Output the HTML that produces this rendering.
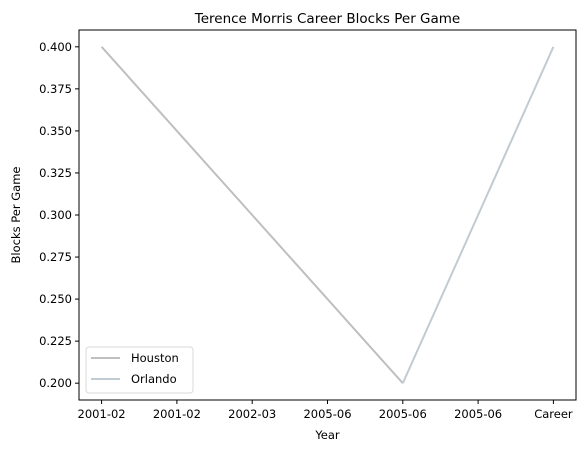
<!DOCTYPE html>
<html><head><meta charset="utf-8"><style>
body{margin:0;background:#fff;font-family:"Liberation Sans","DejaVu Sans",sans-serif}
</style></head><body>
<svg id="chart" width="588" height="453" xmlns="http://www.w3.org/2000/svg" font-family="DejaVu Sans, Liberation Sans, sans-serif"></svg>
<script>
const categories=["2001-02","2001-02","2002-03","2005-06","2005-06","2005-06","Career"];
const houston=[0.4,0.35,0.3,0.25,0.2,null,null];
const orlando=[null,null,null,null,0.2,0.3,0.4];
const yTicks=[0.2,0.225,0.25,0.275,0.3,0.325,0.35,0.375,0.4];
const L=79,R=576,T=30,B=400,xmin=-0.3,xmax=6.3,ymin=0.19,ymax=0.41;
const X=i=>L+(i-xmin)/(xmax-xmin)*(R-L);
const Y=v=>B-(v-ymin)/(ymax-ymin)*(B-T);
const svg=document.getElementById('chart');
const NS="http://www.w3.org/2000/svg";
function mk(t,a,txt){const e=document.createElementNS(NS,t);for(const k in a)e.setAttribute(k,a[k]);if(txt!=null)e.textContent=txt;svg.appendChild(e);return e;}
let e=mk('text',{x:(L+R)/2,y:23,'text-anchor':'middle','font-size':13.5},'Terence Morris Career Blocks Per Game');


function line(vals,color,name){let pts=[];vals.forEach((v,i)=>{if(v!=null)pts.push(X(i)+','+Y(v));});
const p=mk('polyline',{points:pts.join(' '),fill:'none',stroke:color,'stroke-width':2});

}
line(houston,'#bfbfbf','houston-line');
line(orlando,'#c0cbd2','orlando-line');
e=mk('rect',{x:L,y:T,width:R-L,height:B-T,fill:'none',stroke:'#000','stroke-width':1});


yTicks.forEach(v=>{mk('line',{x1:L-4,x2:L,y1:Y(v),y2:Y(v),stroke:'#000'});
const t=mk('text',{x:L-7,y:Y(v)+4,'text-anchor':'end','font-size':11.5},v.toFixed(3));

});
categories.forEach((c,i)=>{mk('line',{x1:X(i),x2:X(i),y1:B,y2:B+4,stroke:'#000'});
const t=mk('text',{x:X(i),y:B+18,'text-anchor':'middle','font-size':11.5},c);

});
e=mk('text',{x:(L+R)/2,y:439,'text-anchor':'middle','font-size':11.5},'Year');


e=mk('text',{x:20,y:(T+B)/2,'text-anchor':'middle','font-size':11.5,transform:`rotate(-90 20 ${(T+B)/2})`},'Blocks Per Game');


e=mk('rect',{x:86,y:347,width:107,height:46,fill:'#fff',stroke:'#d9d9d9',rx:3});


[['Houston','#bfbfbf',358],['Orlando','#c0cbd2',379]].forEach(([n,c,y])=>{
mk('line',{x1:91,x2:120,y1:y,y2:y,stroke:c,'stroke-width':2});
const t=mk('text',{x:131,y:y+4,'font-size':11.5},n);

});
</script>
</body></html>
